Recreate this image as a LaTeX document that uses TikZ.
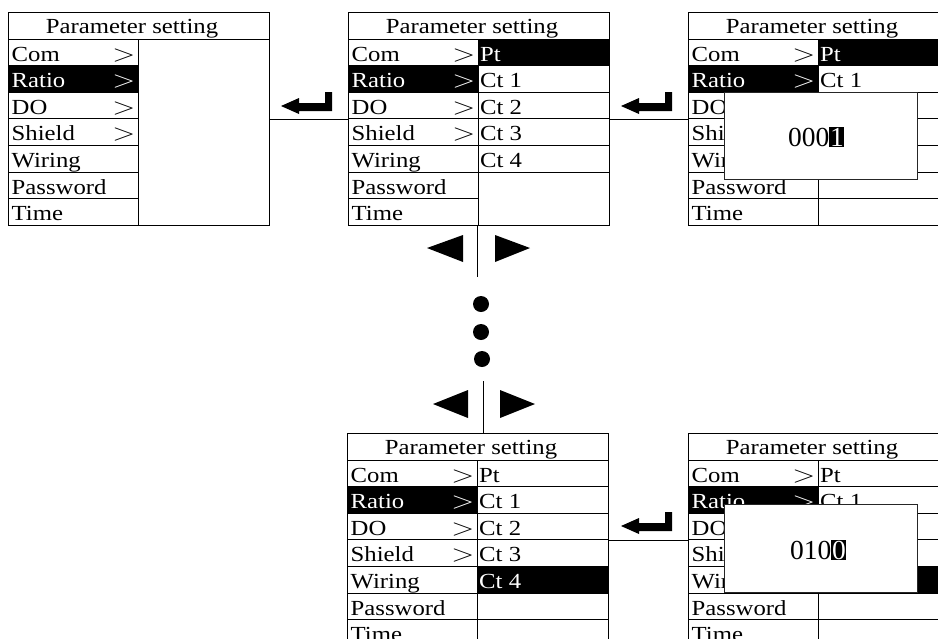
\documentclass[tikz,border=0pt]{standalone}
\usepackage{fontspec}
\setmainfont{Liberation Serif}[FakeStretch=1.15]
\newfontfamily\popfont{Liberation Serif}
\newcommand\menufont{\fontsize{21.5}{24}\selectfont}
\newcommand\popsize{\popfont\fontsize{27.5}{30}\selectfont}
\newcommand\hlchar[1]{{\setlength{\fboxsep}{0.6pt}\colorbox{black}{\textcolor{white}{#1}}}}
\newcommand\biggt{\scalebox{1.45}[1.15]{$>$}}
\tikzset{
  panelframe/.style={draw=black, line width=0.9pt, inner sep=0pt, minimum width=261pt, minimum height=213pt, anchor=north west},
  rowline/.style={draw=black, line width=0.8pt},
  ltxt/.style={anchor=base west, inner sep=0pt, font=\menufont},
  rtxt/.style={anchor=base east, inner sep=0pt, font=\menufont},
  ctxt/.style={anchor=base, inner sep=0pt, font=\menufont},
  popbox/.style={draw=black!85, line width=0.9pt, fill=white, inner sep=0pt, anchor=north west},
  poptxt/.style={anchor=base west, inner sep=0pt, font=\popsize},
  conn/.style={draw=black, line width=0.9pt},
  enterkey/.style={fill=black},
  tri/.style={fill=black},
  dot/.style={fill=black},
}
% #1 name, #2 x, #3 y, #4 highlighted left row
\newcommand\mpanel[4]{%
  \begin{scope}[shift={(#2,#3)}]
    \fill[black] (0,{27+26.6*(#4-1)}) rectangle (130,{27+26.6*#4});
    \node[panelframe] (#1) at (0,0) {};
    \draw[rowline] (0,27) -- (261,27) (130,27) -- (130,213);
    \foreach \k in {1,...,6} \draw[rowline] (0,{27+26.6*\k}) -- (130,{27+26.6*\k});
    \node[ctxt] (#1-title) at (124,21) {Parameter setting};
    \foreach \t [count=\k] in {Com,Ratio,DO,Shield,Wiring,Password,Time} {
      \ifnum\k=#4\relax\def\tc{white}\else\def\tc{black}\fi
      \node[ltxt, text=\tc] (#1-l\k) at (3.5,{27+26.6*\k-4.5}) {\t};
      \ifnum\k<5\relax\node[rtxt, text=\tc] (#1-g\k) at (127.5,{27+26.6*\k-4.5}) {\biggt};\fi
    }
  \end{scope}}
% #1 name, #2 x, #3 y, #4 highlighted right row, #5 line list, #6 entries
\newcommand\rcol[6]{%
  \begin{scope}[shift={(#2,#3)}]
    \fill[black] (130,{27+26.6*(#4-1)}) rectangle (261,{27+26.6*#4});
    \foreach \k in {#5} \draw[rowline] (130,{27+26.6*\k}) -- (261,{27+26.6*\k});
    \foreach \t [count=\k] in {#6} {
      \ifnum\k=#4\relax\def\tc{white}\else\def\tc{black}\fi
      \node[ltxt, text=\tc] (#1-r\k) at (132,{27+26.6*\k-4.5}) {\t};
    }
  \end{scope}}
\newcommand\enterarrow[2]{%
  \fill[enterkey] (#1,#2) -- ++(18,-8) -- ++(0,5) -- ++(26,0) -- ++(0,-11) -- ++(7,0) -- ++(0,19) -- ++(-33,0) -- ++(0,3) -- cycle;}
\begin{document}
\begin{tikzpicture}[x=1pt, y=-1pt]
  \useasboundingbox (0,0) rectangle (938,638);
  \clip (0,0) rectangle (938,638);
  % panels
  \mpanel{p1}{8}{12}{2}
  \mpanel{p2}{348}{12}{2}
  \rcol{p2}{348}{12}{1}{1,2,3,4,5}{Pt,Ct 1,Ct 2,Ct 3,Ct 4}
  \mpanel{p3}{688}{12}{2}
  \rcol{p3}{688}{12}{1}{1,2,3,4,5,6}{Pt,Ct 1}
  \mpanel{p4}{347}{433}{2}
  \rcol{p4}{347}{433}{5}{1,2,3,4,5,6}{Pt,Ct 1,Ct 2,Ct 3,Ct 4}
  \mpanel{p5}{688}{433}{2}
  \rcol{p5}{688}{433}{5}{1,2,3,4,5,6}{Pt,Ct 1}
  % connectors
  \draw[conn] (p1.east) -- (p2.west);
  \draw[conn] (p2.east) -- (p3.west);
  \draw[conn] (p4.east) -- (p5.west);
  \coordinate (v1) at (477,277);
  \draw[conn] (v1 |- p2.south) -- (v1);
  \coordinate (v2) at (483,381);
  \draw[conn] (v2) -- (v2 |- p4.north);
  % enter keys
  \enterarrow{281}{106}
  \enterarrow{621}{106}
  \enterarrow{621}{526}
  % left/right triangles
  \fill[tri] (427,248) -- (463,235) -- (463,262) -- cycle;
  \fill[tri] (530,248) -- (495,235) -- (495,262) -- cycle;
  \fill[tri] (433,404) -- (468,390) -- (468,418) -- cycle;
  \fill[tri] (535,404) -- (500,390) -- (500,418) -- cycle;
  % dots
  \fill[dot] (481,304) circle[radius=8pt];
  \fill[dot] (481,332) circle[radius=8pt];
  \fill[dot] (482,359) circle[radius=8pt];
  % popups
  \node[popbox, minimum width=193pt, minimum height=87pt] (pop1) at (724,92) {};
  \node[poptxt] (pop1-t) at (788,146) {000\hlchar{1}};
  \node[popbox, minimum width=193pt, minimum height=88pt] (pop2) at (724,504) {};
  \node[poptxt] (pop2-t) at (790,559) {010\hlchar{0}};
\end{tikzpicture}
\end{document}
